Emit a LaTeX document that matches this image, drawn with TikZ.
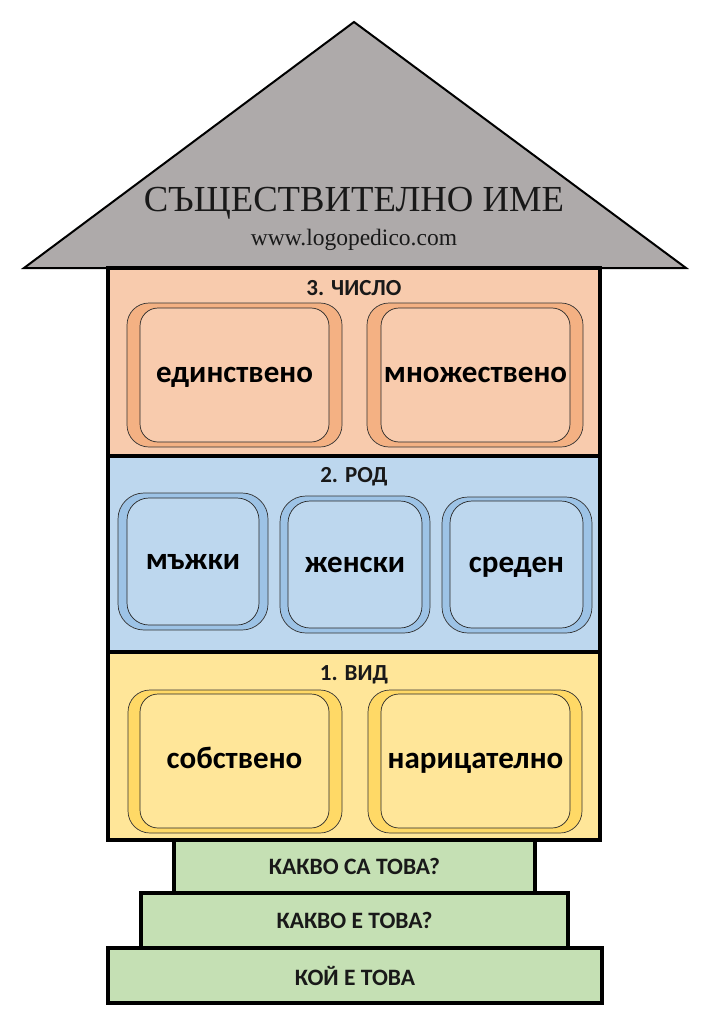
\documentclass[tikz,border=0pt]{standalone}
\usepackage{fontspec}
\setmainfont{Carlito}
\newfontfamily\titlefont{Liberation Serif}
\definecolor{roofgray}{HTML}{AEAAAA}
\definecolor{orL}{HTML}{F8CBAD}
\definecolor{orD}{HTML}{F4B183}
\definecolor{blL}{HTML}{BDD7EE}
\definecolor{blD}{HTML}{9DC3E6}
\definecolor{yeL}{HTML}{FFE699}
\definecolor{yeD}{HTML}{FFD966}
\definecolor{grL}{HTML}{C5E0B4}
\tikzset{
  section/.style={draw=black, line width=3.5pt, rectangle, inner sep=0pt, outer sep=0pt},
  stepbox/.style={draw=black, line width=3.5pt, fill=grL, rectangle, inner sep=0pt, outer sep=0pt,
    font=\bfseries\fontsize{23.5}{25}\selectfont, text=black!90},
  ring/.style={draw=black!80, line width=0.7pt, rectangle, rounded corners=22pt, inner sep=0pt, outer sep=0pt},
  core/.style={draw=black!85, line width=0.7pt, rectangle, rounded corners=18pt, inner sep=0pt, outer sep=0pt,
    font=\bfseries\fontsize{31}{33}\selectfont, text height=20pt, text depth=5pt},
  sectitle/.style={font=\bfseries\fontsize{23}{25}\selectfont, inner sep=0pt, text=black!90}
}
\begin{document}
\begin{tikzpicture}[x=1pt,y=-1pt]
\useasboundingbox (0,0) rectangle (709,1024);
\fill[white] (0,0) rectangle (709,1024);

% steps
\node[stepbox, minimum width=494, minimum height=55] (step3) at (355,975.5) {КОЙ Е ТОВА};
\node[stepbox, minimum width=427, minimum height=55] (step2) at (354.5,920.5) {КАКВО Е ТОВА?};
\node[stepbox, minimum width=361, minimum height=53] (step1) at (354.5,866.5) {КАКВО СА ТОВА?};

% roof
\coordinate (apex) at (354,22);
\coordinate (rl) at (24,268);
\coordinate (rr) at (686,268);
\draw[fill=roofgray, line width=2pt, line join=miter] (apex) -- (rr) -- (rl) -- cycle;
\node[font=\titlefont\fontsize{36.7}{38}\selectfont, text=black!90, inner sep=0pt] (title) at (354,203) {СЪЩЕСТВИТЕЛНО ИМЕ};
\node[font=\titlefont\fontsize{23.5}{25}\selectfont, text=black!90, inner sep=0pt] (url) at (354,240) {www.logopedico.com};

% sections
\node[section, fill=orL, minimum width=492, minimum height=188] (chislo) at (354,362) {};
\node[section, fill=blL, minimum width=492, minimum height=196] (rod) at (354,554) {};
\node[section, fill=yeL, minimum width=492, minimum height=188] (vid) at (354,746) {};

\node[sectitle] (t3) at (354,288) {3. ЧИСЛО};
\node[sectitle] (t2) at (354,477) {2. РОД};
\node[sectitle] (t1) at (354,675) {1. ВИД};

% number boxes
\node[ring, fill=orD, minimum width=215, minimum height=144] (ed-o) at (234.5,375) {};
\node[core, fill=orL, minimum width=189, minimum height=134] (ed) at (234.5,375) {единствено};
\node[ring, fill=orD, minimum width=216, minimum height=144] (mn-o) at (475,375) {};
\node[core, fill=orL, minimum width=189, minimum height=134] (mn) at (475.5,375) {множествено};

% gender boxes
\node[ring, fill=blD, rounded corners=26pt, minimum width=150, minimum height=137] (m-o) at (193,561.5) {};
\node[core, fill=blL, rounded corners=22pt, minimum width=132, minimum height=127] (m) at (193,561.5) {мъжки};
\node[ring, fill=blD, rounded corners=26pt, minimum width=150, minimum height=137] (zh-o) at (355,564.5) {};
\node[core, fill=blL, rounded corners=22pt, minimum width=134, minimum height=127] (zh) at (355,564.5) {женски};
\node[ring, fill=blD, rounded corners=26pt, minimum width=150, minimum height=136] (sr-o) at (517,565) {};
\node[core, fill=blL, rounded corners=22pt, minimum width=133, minimum height=127] (sr) at (516.5,564.5) {среден};

% kind boxes
\node[ring, fill=yeD, minimum width=214, minimum height=143] (sob-o) at (235,761.5) {};
\node[core, fill=yeL, minimum width=189, minimum height=134] (sob) at (234.5,761) {собствено};
\node[ring, fill=yeD, minimum width=214, minimum height=143] (nar-o) at (475,761.5) {};
\node[core, fill=yeL, minimum width=189, minimum height=134] (nar) at (475.5,761) {нарицателно};
\end{tikzpicture}
\end{document}
